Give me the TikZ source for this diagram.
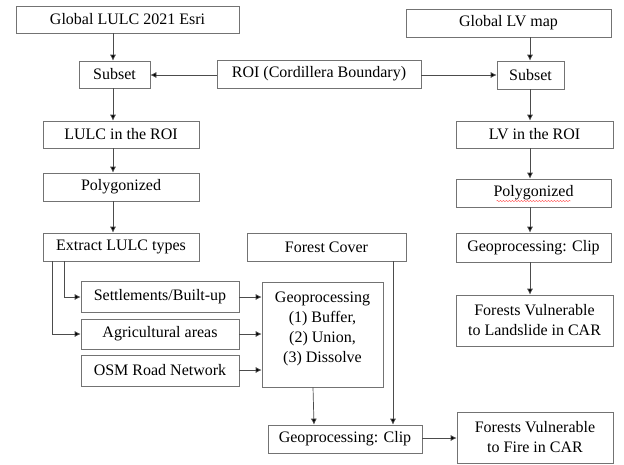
\documentclass[tikz,border=0pt]{standalone}
\usepackage{fontspec}
\setmainfont{Liberation Serif}
\usetikzlibrary{arrows.meta,decorations.pathmorphing}
\begin{document}
\begin{tikzpicture}[x=1pt,y=-1pt,
  box/.style={draw=black!55, line width=0.7pt, inner sep=0pt, align=center,
    font=\fontsize{16}{20}\selectfont, text=black},
  arr/.style={draw=black!70, line width=0.7pt, -{Latex[length=6pt,width=6pt,fill=black]}},
  ln/.style={draw=black!70, line width=0.7pt}]
\useasboundingbox (0,0) rectangle (624,464);
% nodes
\node[box, minimum width=223pt, minimum height=27pt] (g1) at (127.5,19.5) {Global LULC 2021 Esri};
\node[box, minimum width=71pt, minimum height=27pt] (s1) at (114.5,74.5) {Subset};
\node[box, minimum width=204pt, minimum height=28pt] (roi) at (319,74) {ROI (Cordillera Boundary)};
\node[box, minimum width=205pt, minimum height=28pt] (g2) at (508.5,23) {Global LV map};
\node[box, minimum width=67pt, minimum height=28pt] (s2) at (530.5,75) {Subset};
\node[box, minimum width=156pt, minimum height=27pt] (l1) at (121,134.5) {LULC in the ROI};
\node[box, minimum width=156pt, minimum height=28pt] (p1) at (121,187) {Polygonized};
\node[box, minimum width=156pt, minimum height=28pt] (e1) at (121,247) {Extract LULC types};
\node[box, minimum width=157pt, minimum height=27pt] (l2) at (534.5,134.5) {LV in the ROI};
\node[box, minimum width=155pt, minimum height=28pt] (p2) at (533.5,193) {Polygonized};
\node[box, minimum width=155pt, minimum height=29pt] (c2) at (533.5,247.5) {Geoprocessing: Clip};
\node[box, minimum width=157pt, minimum height=51pt] (fl) at (534.5,320.5) {Forests Vulnerable\\to Landslide in CAR};
\node[box, minimum width=159pt, minimum height=28pt] (fc) at (326.5,247) {Forest Cover};
\node[box, minimum width=158pt, minimum height=31pt] (st) at (160,296.5) {Settlements/Built-up};
\node[box, minimum width=158pt, minimum height=30pt] (ag) at (160,334) {Agricultural\ areas};
\node[box, minimum width=158pt, minimum height=31pt] (os) at (160,370.5) {OSM Road Network};
\node[box, minimum width=121pt, minimum height=105pt] (gp) at (322.5,334.5) {};
\node[font=\fontsize{16}{20}\selectfont, align=center, inner sep=0pt] (gpt) at (322.5,329) {Geoprocessing\\(1) Buffer,\\(2) Union,\\(3) Dissolve};
\node[box, minimum width=154pt, minimum height=28pt] (c1) at (345,439) {Geoprocessing: Clip};
\node[box, minimum width=156pt, minimum height=51pt] (ff) at (535,437.5) {Forests Vulnerable\\to Fire in CAR};
% helper coordinates
\coordinate (xa) at (113,0);
\coordinate (xb) at (530,0);
\coordinate (xe1) at (64,0);
\coordinate (xe2) at (52,0);
\coordinate (xg) at (313,0);
\coordinate (xf) at (393,0);
\coordinate (ya) at (0,75);
\coordinate (yst) at (0,297);
\coordinate (yag) at (0,334);
\coordinate (yos) at (0,370);
\coordinate (yc) at (0,438);
% red spell-check underline
\draw[red!70, line width=0.4pt, decorate, decoration={snake, amplitude=0.6pt, segment length=3pt}]
  ([xshift=-37pt,yshift=-8pt]p2.center) -- ([xshift=37pt,yshift=-8pt]p2.center);
% connectors
\draw[arr] (g1.south -| xa) -- (s1.north -| xa);
\draw[arr] (s1.south -| xa) -- (l1.north -| xa);
\draw[arr] (l1.south -| xa) -- (p1.north -| xa);
\draw[arr] (p1.south -| xa) -- (e1.north -| xa);
\draw[arr] (roi.west |- ya) -- (s1.east |- ya);
\draw[arr] (roi.east |- ya) -- (s2.west |- ya);
\draw[arr] (g2.south -| xb) -- (s2.north -| xb);
\draw[arr] (s2.south -| xb) -- (l2.north -| xb);
\draw[arr] (l2.south -| xb) -- (p2.north -| xb);
\draw[arr] (p2.south -| xb) -- (c2.north -| xb);
\draw[arr] (c2.south -| xb) -- (fl.north -| xb);
\draw[arr] (e1.south -| xe1) |- (st.west |- yst);
\draw[arr] (e1.south -| xe2) |- (ag.west |- yag);
\draw[arr] (st.east |- yst) -- (gp.west |- yst);
\draw[arr] (ag.east |- yag) -- (gp.west |- yag);
\draw[arr] (os.east |- yos) -- (gp.west |- yos);
\draw[arr] (gp.south -| xg) -- ([xshift=1pt]c1.north -| xg);
\draw[arr] (fc.south -| xf) -- (c1.north -| xf);
\draw[arr] (c1.east |- yc) -- (ff.west |- yc);
\end{tikzpicture}
\end{document}
